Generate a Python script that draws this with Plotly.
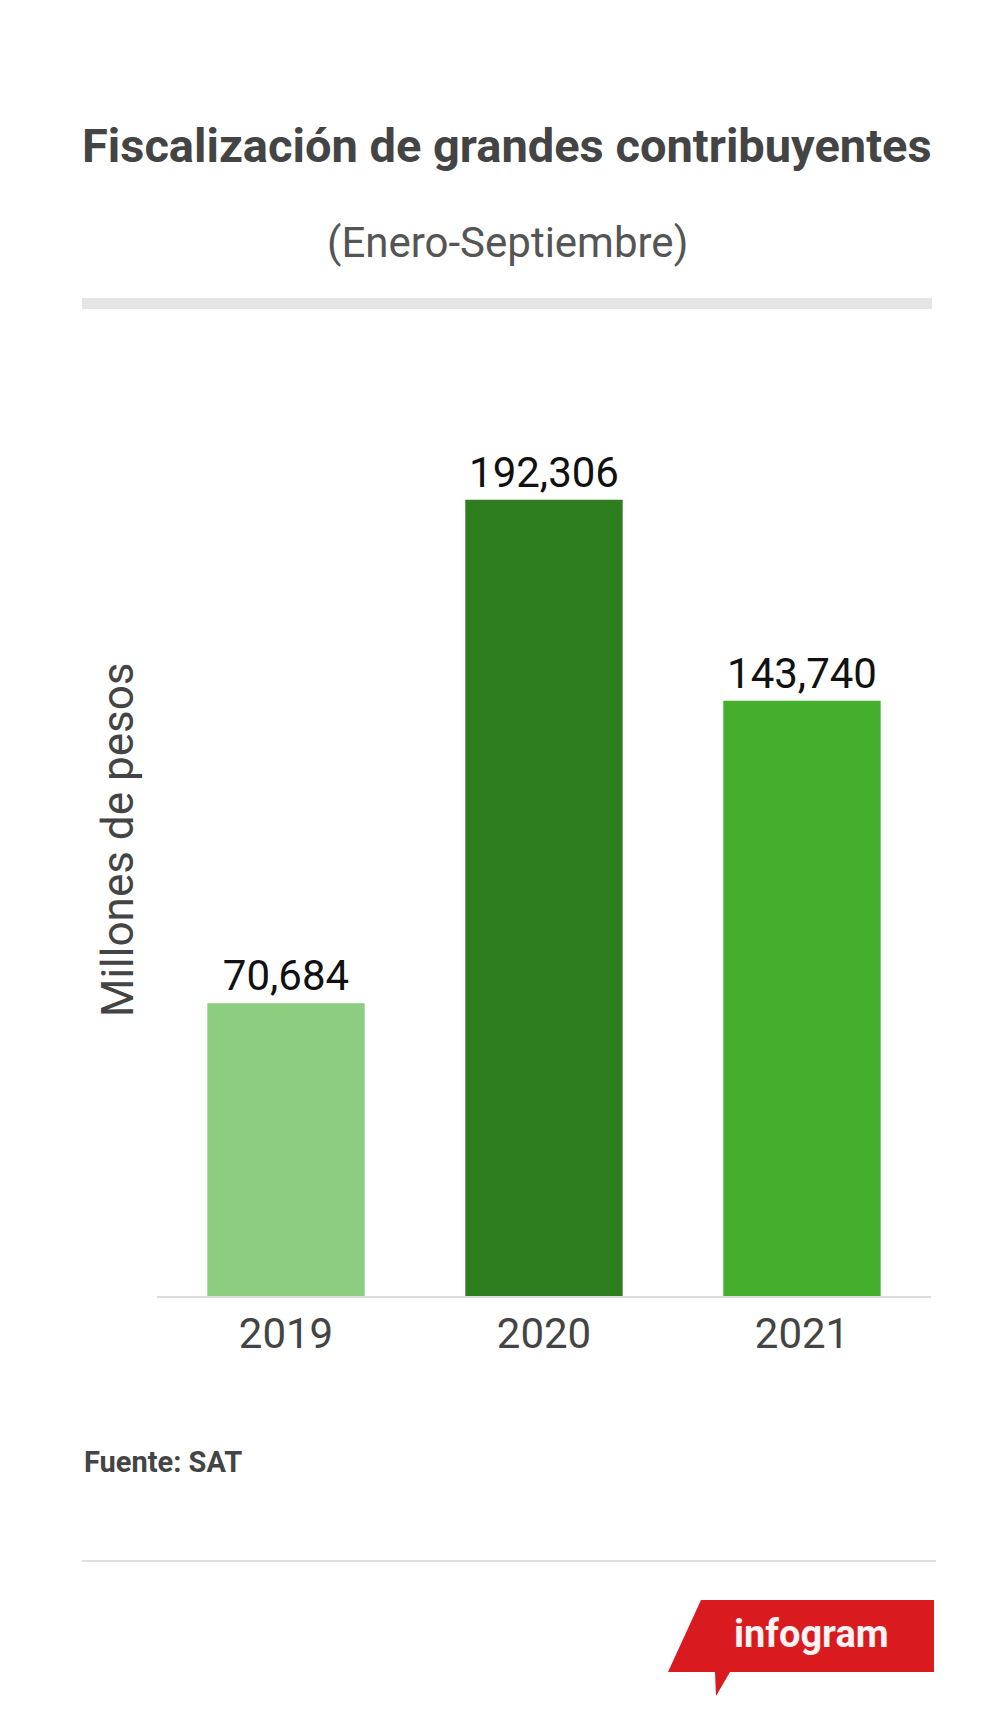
import plotly.graph_objects as go

years = ["2019", "2020", "2021"]
values = [70684, 192306, 143740]
bar_colors = ["#8DCD7F", "#2E7D1F", "#45AF2D"]

title = "Fiscalización de grandes contribuyentes"
subtitle = "(Enero-Septiembre)"
y_title = "Millones de pesos"
source = "Fuente: SAT"

W, H = 1000, 1726
L, R, T, B = 149, 77, 380, 438
PW, PH = W - L - R, H - T - B


def px(x):
    return (x - L) / PW


def py(y):
    return (H - B - y) / PH


fig = go.Figure()
fig.add_trace(
    go.Bar(
        x=years,
        y=values,
        marker=dict(color=bar_colors, line=dict(width=0)),
        text=[f"{v:,}" for v in values],
        textposition="outside",
        textfont=dict(family="Roboto", size=42, color="#111111"),
        cliponaxis=False,
        hoverinfo="skip",
    )
)

annotations = [
    dict(text=f"<b>{title}</b>", x=px(499), y=py(137),
         font=dict(family="Roboto", size=47, color="#444444")),
    dict(text=subtitle, x=px(499), y=py(235),
         font=dict(family="Roboto", size=42, color="#555555")),
    dict(text=y_title, x=px(110), y=py(832), textangle=-90,
         font=dict(family="Roboto", size=44, color="#444444")),
    dict(text=f"<b>{source}</b>", x=px(74), y=py(1454), xanchor="left",
         font=dict(family="Roboto", size=29, color="#444444")),
    dict(text="<b>infogram</b>", x=px(803), y=py(1626),
         font=dict(family="Roboto", size=38, color="#fff3f3")),
]
for a in annotations:
    a.update(xref="paper", yref="paper", showarrow=False)
    a.setdefault("xanchor", "center")
    a.setdefault("yanchor", "middle")

logo = [(693, 1592), (926, 1592), (926, 1664), (722, 1664), (708, 1688),
        (707, 1664), (660, 1664)]
logo_path = "M " + " L ".join(f"{px(x):.5f},{py(y):.5f}" for x, y in logo) + " Z"

shapes = [
    dict(type="rect", x0=px(74), x1=px(924), y0=py(290), y1=py(301),
         fillcolor="#e5e5e5", line=dict(width=0)),
    dict(type="line", x0=px(74), x1=px(928), y0=py(1553), y1=py(1553),
         line=dict(color="#e0e0e0", width=2)),
    dict(type="path", path=logo_path, fillcolor="#D91A1F", line=dict(width=0)),
]
for s in shapes:
    s.update(xref="paper", yref="paper")

fig.update_layout(
    width=W,
    height=H,
    margin=dict(l=L, r=R, t=T, b=B),
    paper_bgcolor="white",
    plot_bgcolor="white",
    showlegend=False,
    bargap=0.39,
    annotations=annotations,
    shapes=shapes,
    xaxis=dict(
        showline=True, linecolor="#dcdcdc", linewidth=2, ticks="",
        showgrid=False, zeroline=False,
        tickfont=dict(family="Roboto", size=42, color="#444444"),
    ),
    yaxis=dict(
        range=[0, 219300], showticklabels=False, showgrid=False,
        zeroline=False, showline=False,
    ),
)

fig.write_html("out.html")
